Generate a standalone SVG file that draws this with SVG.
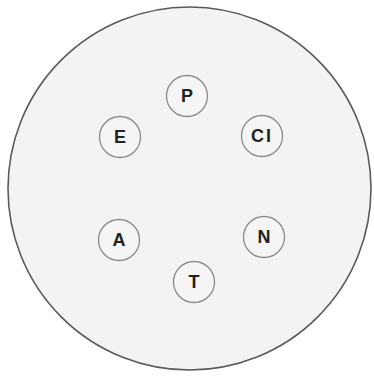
<svg xmlns="http://www.w3.org/2000/svg" width="374" height="376" viewBox="0 0 374 376">
<style>
.node circle{fill:#f5f5f5;stroke:#8a8a8a;stroke-width:1.3}
.node text{font-family:"Liberation Sans",Arial,sans-serif;font-weight:bold;font-size:18px;fill:#222;text-anchor:middle;dominant-baseline:central}
</style>
<rect width="374" height="376" fill="#fff"/>
<g id="boundary"><circle cx="189.5" cy="188.5" r="181.5" fill="#f3f3f3" stroke="#5a5a5a" stroke-width="1.6"/></g>
<g id="connectors"/>
<g id="P" class="node"><circle cx="187" cy="96" r="20.5"/><text x="187" y="96">P</text></g>
<g id="E" class="node"><circle cx="120" cy="137" r="20.5"/><text x="120" y="137">E</text></g>
<g id="Cl" class="node"><circle cx="262" cy="136" r="20.5"/><text x="262" y="136" letter-spacing="2">CI</text></g>
<g id="A" class="node"><circle cx="119" cy="240" r="20.5"/><text x="119" y="240">A</text></g>
<g id="N" class="node"><circle cx="264" cy="237" r="20.5"/><text x="264" y="237">N</text></g>
<g id="T" class="node"><circle cx="194" cy="282" r="20.5"/><text x="194" y="282">T</text></g>
</svg>
